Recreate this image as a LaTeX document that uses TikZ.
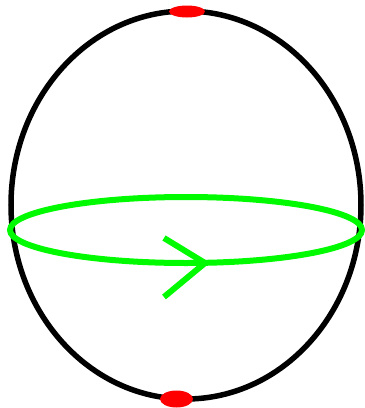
\documentclass[tikz,border=0pt]{standalone}
\usepackage{xcolor}
\usepackage{tikz}
\usetikzlibrary{calc}

\definecolor{loopgreen}{RGB}{0,250,0}

\begin{document}
\begin{tikzpicture}[
    x=1pt, y=-1pt,
    sphere/.style={draw=black, line width=5.5pt},
    orbit/.style={draw=loopgreen, line width=6pt},
    pole/.style={fill=red},
]
    \useasboundingbox (0,0) rectangle (365,408);

    % ── Sphere outline ────────────────────────────
    \draw[sphere] (186,205) ellipse [x radius=175, y radius=194];

    % ── Equator loop with direction mark ──────────
    \draw[orbit] (186,230) ellipse [x radius=176, y radius=33];
    \coordinate (tip) at (205,263);
    \draw[orbit, line join=miter] (164,238) -- (tip) -- (164,297);

    % ── Poles ─────────────────────────────────────
    \fill[pole] (187,11.5) ellipse [x radius=18, y radius=6];
    \fill[pole] (176.5,399) ellipse [x radius=16.5, y radius=8.5];
\end{tikzpicture}
\end{document}
